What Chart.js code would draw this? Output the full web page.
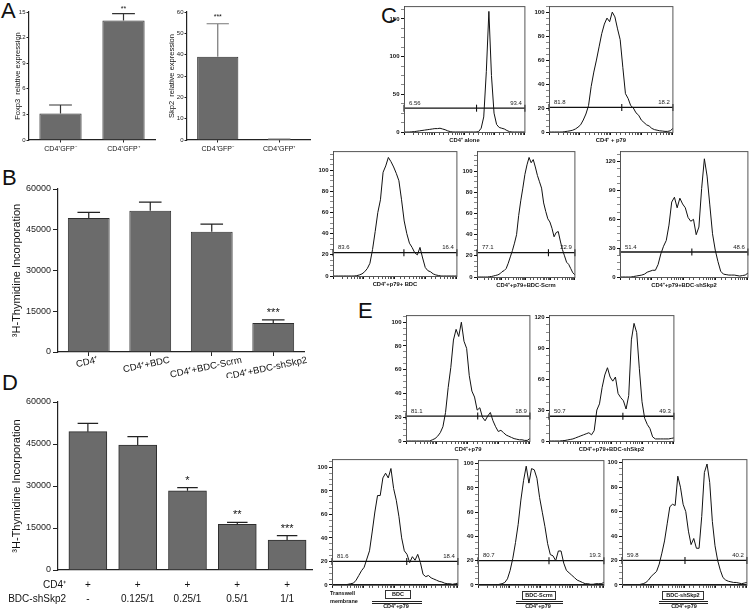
<!DOCTYPE html>
<html>
<head>
<meta charset="utf-8">
<script src="https://cdn.jsdelivr.net/npm/chart.js@4.4.1/dist/chart.umd.min.js"></script>
<style>
  body { margin: 0; width: 751px; height: 612px; position: relative; overflow: hidden; background: #fff;
         font-family: "Liberation Sans", Arial, sans-serif; color: #111; }
  canvas { position: absolute; }
  .letter { position: absolute; font-size: 22px; line-height: 22px; }
  .tw { position: absolute; font-size: 5.5px; font-weight: bold; line-height: 8px; }
  .box { position: absolute; height: 7px; border: 1px solid #333; background: #fff; font-size: 5.5px; font-weight: bold; line-height: 7px; text-align: center; }
  .mem { position: absolute; height: 1px; border-top: 1px solid #222; border-bottom: 1px solid #222; }
  .cd { position: absolute; width: 50px; margin-left: -25px; text-align: center; font-size: 5.5px; font-weight: bold; line-height: 7px; }
</style>
</head>
<body>
<div class="letter" style="left:1px;top:0px">A</div>
<div class="letter" style="left:2px;top:167px">B</div>
<div class="letter" style="left:381px;top:5px">C</div>
<div class="letter" style="left:2px;top:372px">D</div>
<div class="letter" style="left:358px;top:300px">E</div>

<script>
// ---- panel A: relative expression ----
const gfpGroups = ['CD4⁺GFP⁻', 'CD4⁺GFP⁺'];
const foxp3Expr = [3.1, 14.0];
const foxp3Err = [1.0, 0.8];
const foxp3Stars = ['', '**'];
const foxp3Ticks = [0, 3, 6, 9, 12, 15];
const skp2Expr = [39.0, 0.3];
const skp2Err = [15.5, 0.15];
const skp2Stars = ['***', ''];
const skp2Ticks = [0, 10, 20, 30, 40, 50, 60];

// ---- panel B: thymidine incorporation ----
const bGroups = ['CD4⁺', 'CD4⁺+BDC', 'CD4⁺+BDC-Scrm', 'CD4⁺+BDC-shSkp2'];
const bThymidine = [49300, 52000, 44300, 10700];
const bErr = [2100, 3200, 2800, 1100];
const bStars = ['', '', '', '***'];
const thymidineTicks = [0, 15000, 30000, 45000, 60000];

// ---- panel D: dose of BDC-shSkp2 ----
const dCd4Row = ['+', '+', '+', '+', '+'];
const dRatioRow = ['-', '0.125/1', '0.25/1', '0.5/1', '1/1'];
const dThymidine = [49400, 44600, 28300, 16300, 10700];
const dErr = [3000, 3000, 1100, 700, 1550];
const dStars = ['', '', '*', '**', '***'];

// ---- panels C / E: CFSE histograms (counts per channel bin) ----
const cd4Alone = [0,0,0,0.3,0.5,1,1.5,2,2.5,3,3.5,4,4.5,4.5,5,4,3,1.5,0.5,0,0,0,0,0,0,0,0,0,0,0.5,5,20,80,160,75,25,10,6,5,4,2,0.5,0,0,0,0,0,0];
const cd4P79 = [0,0,0,0,0,0,0.3,0.6,1,1.5,2.5,4,6,10,15,22,38,50,60,71,82,90,95,92,100,96,86,77,54,32,28,22,20,16,14,10,8,6,5,3,2,1.5,1,0.8,0.5,0.5,1,3];
const p79Bdc = [0,0,0,0,0,0,0,0,0,0.3,1,2,4,7,12,25,42,60,72,98,104,112,108,103,97,90,72,52,40,31,27,22,20,27,17,8,5,4,2,1,0.5,0,0,0,0,0,0,0];
const p79Scrm = [0,0,0,0,0,0,0.3,0.5,1,1.5,2,3,5,6,8,13,19,25,32,40,58,72,84,97,106,113,108,111,104,96,90,84,70,62,55,52,46,38,42,43,34,26,20,14,12,8,4,2];
const p79ShSkp2 = [0,0,0,0,0,0.5,1,1.5,2,3,5,6,7,7,13,24,32,38,54,78,83,72,82,76,72,62,58,60,44,52,92,123,105,75,45,28,16,6,3,2.5,2,2,2,1.5,1,1.5,2,4];
const eP79 = [0,0,0,0,0,0,0,0,0,0,1,2,4,7,12,24,45,62,85,94,88,100,84,78,55,42,37,26,28,20,17,21,24,17,12,8,9,7,5,4,3,2,1.5,1,1,0.5,0.5,2];
const eP79ShSkp2 = [0,0,0,0,0,0.3,0.5,1,1.5,2,3,4,5,6,7,8,6,10,30,36,52,64,71,62,58,62,46,42,39,31,44,98,114,105,70,38,22,16,12,4,2,2,2,2,2,2,2.5,3];
const twBdc = [0,0,0,0,0,0,0.5,1,1.5,4,8,12,15,22,29,45,62,76,76,91,95,91,99,82,72,58,40,29,26,19,24,21,26,19,9,7,8,6,5,4,3,2.5,1.5,1,1,0.5,1,1.5];
const twScrm = [0,0,0,0,0,0,0,0,0.5,1,2,5,12,22,35,50,70,86,98,84,96,95,88,72,60,48,34,25,24,20,28,28,18,12,10,8,6,4,3,2,1,1,0.5,0.5,1,1,1,2];
const twShSkp2 = [0,0,0,0,0,0,0,0.5,1,2,4,7,9,11,17,26,36,50,64,66,65,89,80,66,60,44,33,38,30,30,56,92,99,84,52,32,20,12,6,4,3,2.5,2,2,1.5,1,1.5,2];

const histTitles = ['CD4⁺ alone', 'CD4⁺ + p79', 'CD4⁺+p79+ BDC', 'CD4⁺+p79+BDC-Scrm', 'CD4⁺+p79+BDC-shSkp2',
                    'CD4⁺+p79', 'CD4⁺+p79+BDC-shSkp2', '', '', ''];
const histYMax = [167, 105, 118, 119, 131, 106, 122, 107, 103, 103];
const histYStep = [50, 20, 20, 20, 30, 20, 30, 20, 20, 20];
const gateLevel = [31.6, 20.5, 22, 23, 26, 21, 24, 20, 20, 20];
const gateSplit = [28.2, 27.6, 26.9, 34.3, 26.4, 27.2, 27.8, 27.9, 26.5, 23.7];
const gateLeft = ['6.56', '81.8', '83.6', '77.1', '51.4', '81.1', '50.7', '81.6', '80.7', '59.8'];
const gateRight = ['93.4', '18.2', '16.4', '22.9', '48.6', '18.9', '49.3', '18.4', '19.3', '40.2'];


const fontFam = '"Liberation Sans", Arial, sans-serif';
Chart.defaults.font.family = fontFam;
Chart.defaults.color = '#111';

// canvas sized so that the chart area lands on frame f, with axis room p around it
function makeCanvas(f, p) {
    let c = document.createElement('canvas');
    c.width = f.r - f.l + p.l + p.r;
    c.height = f.b - f.t + p.t + p.b;
    c.style.left = (f.l - p.l) + 'px';
    c.style.top = (f.t - p.t) + 'px';
    document.body.appendChild(c);
    return c;
}

const errorBars = {
    id: 'errorBars',
    afterDatasetsDraw(chart, args, o) {
        if (!o || !o.errors) return;
        const ctx = chart.ctx;
        const ys = chart.scales.y;
        const meta = chart.getDatasetMeta(0);
        ctx.save();
        ctx.strokeStyle = o.color;
        ctx.lineWidth = o.width;
        ctx.fillStyle = '#111';
        ctx.font = o.starFont;
        ctx.textAlign = 'center';
        meta.data.forEach((bar, i) => {
            const v = chart.data.datasets[0].data[i];
            const val = typeof v === 'number' ? v : v.y;
            const top = ys.getPixelForValue(val + o.errors[i]);
            const half = bar.width * o.cap;
            ctx.beginPath();
            ctx.moveTo(bar.x, bar.y);
            ctx.lineTo(bar.x, top);
            ctx.moveTo(bar.x - half, top);
            ctx.lineTo(bar.x + half, top);
            ctx.stroke();
            if (o.stars && o.stars[i]) ctx.fillText(o.stars[i], bar.x, top - o.starGap);
        });
        ctx.restore();
    }
};

// slanted category names under panel B
const slantLabels = {
    id: 'slantLabels',
    afterDraw(chart, args, o) {
        if (!o || !o.labels) return;
        const ctx = chart.ctx;
        const xs = chart.scales.x;
        const ang = 12 * Math.PI / 180;
        ctx.save();
        ctx.font = o.font;
        ctx.fillStyle = '#111';
        ctx.textAlign = 'center';
        ctx.textBaseline = 'middle';
        o.labels.forEach((t, i) => {
            const w = ctx.measureText(t).width;
            ctx.save();
            ctx.translate(xs.getPixelForTick(i) - w * 0.08, xs.top + 8 + w / 2 * Math.sin(ang));
            ctx.rotate(-ang);
            ctx.fillText(t, 0, 0);
            ctx.restore();
        });
        ctx.restore();
    }
};

// row names left of the +/- table in panel D
const rowTitles = {
    id: 'rowTitles',
    afterDraw(chart, args, o) {
        if (!o || !o.rows) return;
        const ctx = chart.ctx;
        const xs = chart.scales.x;
        ctx.save();
        ctx.font = o.font;
        ctx.fillStyle = '#111';
        ctx.textAlign = 'right';
        ctx.textBaseline = 'middle';
        o.rows.forEach((t, k) => ctx.fillText(t, chart.chartArea.left + 8, xs.top + o.pad + o.lh / 2 + o.lh * k));
        ctx.restore();
    }
};

// box round the histogram plus gate percentages
const histFrame = {
    id: 'histFrame',
    afterDraw(chart, args, o) {
        if (!o || o.left === undefined) return;
        const ctx = chart.ctx;
        const a = chart.chartArea;
        ctx.save();
        ctx.strokeStyle = '#555';
        ctx.lineWidth = 1;
        ctx.strokeRect(a.left + 0.5, a.top + 0.5, a.right - a.left - 0.5, a.bottom - a.top);
        const gy = chart.scales.y.getPixelForValue(o.level);
        ctx.fillStyle = '#222';
        ctx.font = '6px ' + fontFam;
        ctx.textBaseline = 'bottom';
        ctx.textAlign = 'left';
        ctx.fillText(o.left, a.left + 5, gy - 2);
        ctx.textAlign = 'right';
        ctx.fillText(o.right, a.right - 3, gy - 2);
        ctx.restore();
    }
};

function barChart(f, p, o) {
    const canvas = makeCanvas(f, p);
    const linear = !!o.rows;
    const data = linear ? o.values.map((v, i) => ({ x: i, y: v })) : o.values;
    let xScale;
    if (linear) {
        xScale = {
            type: 'linear', min: -0.6, max: o.values.length - 0.5, offset: false,
            afterBuildTicks: s => { s.ticks = o.values.map((v, i) => ({ value: i })); },
            afterFit: s => { s.height = p.b; },
            grid: { drawOnChartArea: false, drawTicks: false, offset: false },
            border: { color: '#222', width: 1.2 },
            ticks: { autoSkip: false, maxRotation: 0, padding: 8, font: { size: 10, lineHeight: 1.4 },
                     callback: v => [o.rows[0][v], o.rows[1][v]] }
        };
    } else {
        xScale = {
            afterFit: s => { s.height = p.b; },
            grid: { drawOnChartArea: false, offset: false, tickLength: o.xTick, color: '#222' },
            border: { color: '#222', width: 1.2 },
            ticks: { display: !o.slant, maxRotation: 0, padding: 2, font: { size: o.xFont } }
        };
    }
    return new Chart(canvas, {
        type: 'bar',
        data: {
            labels: o.labels,
            datasets: [{
                data: data,
                backgroundColor: '#6b6b6b',
                borderColor: '#2e2e2e',
                borderWidth: 1,
                barPercentage: o.barPct || 0.9,
                categoryPercentage: 1,
                barThickness: o.thickness
            }]
        },
        options: {
            responsive: false,
            animation: false,
            devicePixelRatio: 1,
            layout: { padding: { top: p.t, right: p.r, left: 0, bottom: 0 } },
            plugins: {
                legend: { display: false },
                tooltip: { enabled: false },
                errorBars: { errors: o.errors, stars: o.stars, cap: 0.27, color: o.errColor, width: 1.2,
                             starFont: o.starFont, starGap: o.starGap },
                slantLabels: o.slant ? { labels: o.labels, font: '9.5px ' + fontFam } : {},
                rowTitles: linear ? { rows: ['CD4⁺', 'BDC-shSkp2'], font: '10px ' + fontFam, pad: 8, lh: 14 } : {}
            },
            scales: {
                x: xScale,
                y: {
                    min: 0,
                    max: o.ticks[o.ticks.length - 1],
                    afterBuildTicks: s => { s.ticks = o.ticks.map(v => ({ value: v })); },
                    afterFit: s => { s.width = p.l; },
                    grid: { drawOnChartArea: false, tickLength: o.yTick, color: '#222' },
                    border: { color: '#222', width: 1.2 },
                    ticks: { padding: o.yPad, font: { size: o.yFont }, color: '#222', callback: v => String(v) },
                    title: { display: true, text: o.title, padding: { top: o.titlePad, bottom: 0 },
                             font: { size: o.titleFont, lineHeight: 1 } }
                }
            }
        },
        plugins: [errorBars, slantLabels, rowTitles]
    });
}

// panel A
barChart({ l: 29, t: 12, r: 155, b: 140 }, { l: 15, t: 10, r: 3, b: 14 }, {
    labels: gfpGroups, values: foxp3Expr, errors: foxp3Err, stars: foxp3Stars, ticks: foxp3Ticks,
    title: 'Foxp3  relative expression', titleFont: 7.5, titlePad: 0, barPct: 0.67,
    yFont: 6, yPad: 1, yTick: 2.5, xFont: 7, xTick: 2.5,
    errColor: '#333', starFont: '7px ' + fontFam, starGap: 3
});
barChart({ l: 187, t: 12, r: 310, b: 140 }, { l: 20, t: 10, r: 3, b: 14 }, {
    labels: gfpGroups, values: skp2Expr, errors: skp2Err, stars: skp2Stars, ticks: skp2Ticks,
    title: 'Skp2  relative expression', titleFont: 7.5, titlePad: 1.5, barPct: 0.67,
    yFont: 6, yPad: 1, yTick: 2.5, xFont: 7, xTick: 2.5,
    errColor: '#777', starFont: '7px ' + fontFam, starGap: 5
});

// panel B
barChart({ l: 58, t: 189, r: 304, b: 352 }, { l: 52, t: 8, r: 12, b: 26 }, {
    labels: bGroups, values: bThymidine, errors: bErr, stars: bStars, ticks: thymidineTicks,
    title: '³H-Thymidine Incorporation', titleFont: 11, titlePad: 5.5, barPct: 0.68, slant: true,
    yFont: 9, yPad: 2, yTick: 5, xFont: 9.5, xTick: 4,
    errColor: '#222', starFont: '11px ' + fontFam, starGap: 4
});

// panel D
barChart({ l: 58, t: 402, r: 312, b: 570 }, { l: 52, t: 8, r: 4, b: 40 }, {
    labels: dRatioRow, values: dThymidine, errors: dErr, stars: dStars, ticks: thymidineTicks,
    rows: [dCd4Row, dRatioRow], thickness: 38,
    title: '³H-Thymidine Incorporation', titleFont: 11, titlePad: 5.5,
    yFont: 9, yPad: 2, yTick: 5,
    errColor: '#222', starFont: '11px ' + fontFam, starGap: 4
});

// panels C and E
const histCounts = [cd4Alone, cd4P79, p79Bdc, p79Scrm, p79ShSkp2, eP79, eP79ShSkp2, twBdc, twScrm, twShSkp2];
const histFrames = [
    { l: 404, t: 5, r: 527, b: 132 },
    { l: 549, t: 5, r: 675, b: 132 },
    { l: 333, t: 150, r: 459, b: 276 },
    { l: 477, t: 150, r: 577, b: 277 },
    { l: 620, t: 150, r: 750, b: 277 },
    { l: 406, t: 314, r: 532, b: 441 },
    { l: 549, t: 314, r: 676, b: 441 },
    { l: 332, t: 458, r: 460, b: 585 },
    { l: 478, t: 459, r: 606, b: 585 },
    { l: 622, t: 458, r: 749, b: 585 }
];

function histogram(k) {
    const f = histFrames[k];
    const titled = histTitles[k] !== '';
    const p = { l: 22, t: 4, r: 3, b: titled ? 12 : 5 };
    const canvas = makeCanvas(f, p);
    const counts = histCounts[k];
    const last = counts.length - 1;
    const g = gateLevel[k];
    new Chart(canvas, {
        type: 'line',
        data: {
            datasets: [{
                data: counts.map((v, i) => ({ x: i, y: v })),
                borderColor: '#111',
                borderWidth: 1,
                pointRadius: 0,
                tension: 0
            }, {
                data: [{ x: 0, y: g }, { x: gateSplit[k], y: g }, { x: last, y: g }],
                borderColor: '#111',
                borderWidth: 1.3,
                pointStyle: 'line',
                rotation: 90,
                pointRadius: 3.5,
                pointBorderWidth: 1.1,
                pointBorderColor: '#111',
                clip: false
            }]
        },
        options: {
            responsive: false,
            animation: false,
            devicePixelRatio: 1,
            layout: { padding: { top: p.t, right: p.r, left: 0, bottom: 0 } },
            plugins: {
                legend: { display: false },
                tooltip: { enabled: false },
                histFrame: { level: g, left: gateLeft[k], right: gateRight[k] }
            },
            scales: {
                x: { type: 'linear', display: false, min: 0, max: last },
                xl: {
                    type: 'logarithmic', position: 'bottom', min: 1, max: 10000,
                    afterFit: s => { s.height = p.b; },
                    ticks: { display: true, autoSkip: false, maxRotation: 0, padding: 0,
                             font: { size: 1 }, callback: () => '' },
                    grid: { drawOnChartArea: false, drawTicks: true, tickLength: 3,
                            tickColor: c => (c.tick && c.tick.major) ? '#111' : '#555' },
                    border: { color: '#111', width: 1 },
                    title: { display: titled, text: histTitles[k], padding: 0, color: '#111',
                             font: { size: 5.8, weight: 'bold' } }
                },
                y: {
                    min: 0,
                    max: histYMax[k],
                    afterBuildTicks: s => {
                        const minor = histYStep[k] / 4;
                        let t = [];
                        for (let j = 0; j * minor <= histYMax[k]; j++) t.push({ value: j * minor, big: j % 4 === 0 });
                        s.ticks = t;
                    },
                    afterFit: s => { s.width = p.l; },
                    grid: { drawOnChartArea: false, tickLength: 3,
                            tickColor: c => (c.tick && c.tick.big) ? '#111' : '#888' },
                    border: { color: '#111', width: 1 },
                    ticks: { autoSkip: false, padding: 1.5, font: { size: 6, weight: 'bold' },
                             callback: (v, i, ts) => ts[i].big ? v : '' }
                }
            }
        },
        plugins: [histFrame]
    });
}

histCounts.forEach((c, k) => histogram(k));
</script>

<div class="tw" style="left:330px;top:589px">Transwell<br>membrane</div>
<div class="box" style="left:385px;top:590px;width:24px">BDC</div>
<div class="mem" style="left:372px;top:601px;width:50px"></div>
<div class="cd" style="left:396px;top:603px">CD4⁺+p79</div>
<div class="box" style="left:522px;top:591px;width:32px">BDC-Scrm</div>
<div class="mem" style="left:516px;top:601px;width:47px"></div>
<div class="cd" style="left:538px;top:603px">CD4⁺+p79</div>
<div class="box" style="left:662px;top:591px;width:40px">BDC-shSkp2</div>
<div class="mem" style="left:659px;top:601px;width:49px"></div>
<div class="cd" style="left:684px;top:603px">CD4⁺+p79</div>
</body>
</html>
